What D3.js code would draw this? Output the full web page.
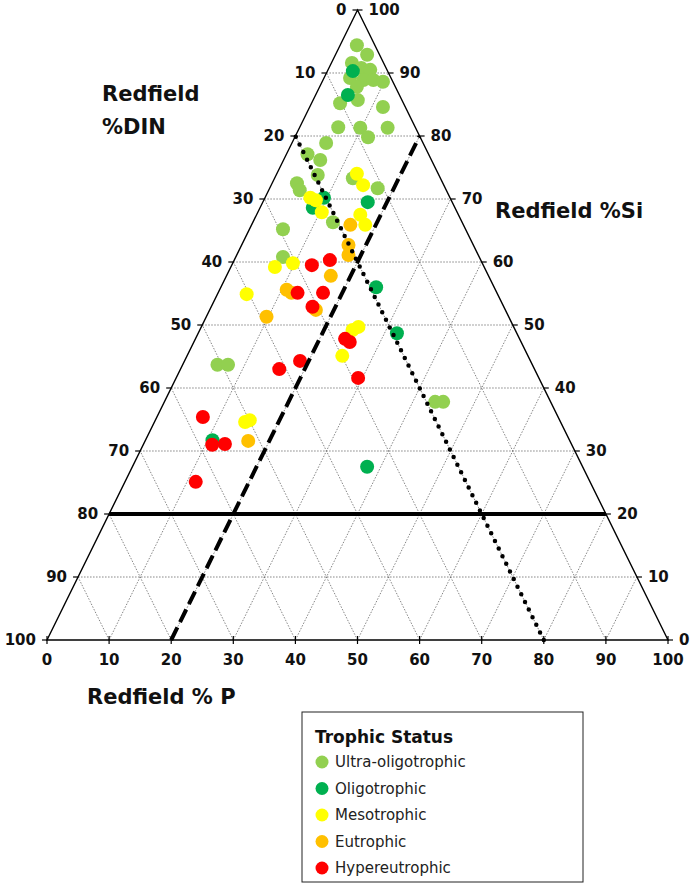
<!DOCTYPE html>
<html>
<head>
<meta charset="utf-8">
<script src="https://cdn.jsdelivr.net/npm/d3@7"></script>
<style>
  body { margin: 0; background: #fff; }
  text { font-family: "DejaVu Sans", sans-serif; }
</style>
</head>
<body>
<div id="chart"></div>
<script>
// tick values shared by the three axes
const ticks = [0, 10, 20, 30, 40, 50, 60, 70, 80, 90, 100];

const statusNames = ["Ultra-oligotrophic", "Oligotrophic", "Mesotrophic", "Eutrophic", "Hypereutrophic"];
const statusColors = ["#92d050", "#00b050", "#ffff00", "#ffc000", "#ff0000"];

// points as [%P, %Si]
const ultraOligo = [
  [2.7, 94.4], [5.1, 92.9], [3.3, 91.6], [5.2, 90.8], [6.8, 90.5], [4.2, 89.2],
  [6.5, 88.9], [8.1, 88.9], [9.8, 88.6], [6.0, 87.8], [4.6, 85.2], [7.2, 85.7],
  [11.8, 84.6], [6.2, 81.4], [9.8, 81.3], [14.2, 81.3], [11.8, 79.8], [5.5, 78.9],
  [3.4, 77.1], [5.9, 76.2], [6.7, 73.8], [4.0, 72.5], [5.0, 71.4], [12.6, 73.3],
  [17.4, 71.7], [12.9, 66.3], [5.4, 65.2], [7.6, 60.8], [5.6, 43.7], [7.3, 43.7],
  [43.6, 37.8], [44.9, 37.8]
];
const oligo = [
  [4.1, 90.3], [5.2, 86.5], [9.5, 70.2], [8.5, 68.6], [16.9, 69.5],
  [25.0, 56.0], [32.0, 48.7], [37.8, 27.5], [10.8, 31.7]
];
const meso = [
  [12.9, 74.0], [14.8, 72.2], [7.3, 70.2], [8.4, 69.8], [10.3, 67.9], [16.7, 67.5],
  [18.3, 65.9], [9.7, 59.8], [7.1, 59.2], [4.7, 54.9], [25.3, 49.7], [24.6, 49.2],
  [25.0, 45.1], [14.6, 34.6], [15.2, 34.9]
];
const eutro = [
  [15.9, 65.9], [17.2, 62.7], [18.0, 61.1], [16.8, 57.8], [10.8, 55.6],
  [11.8, 55.1], [9.7, 51.3], [17.1, 52.4], [16.6, 31.6]
];
const hyper = [
  [12.9, 59.5], [15.4, 60.3], [12.8, 55.1], [16.9, 55.1], [16.3, 52.9], [24.1, 47.8],
  [25.1, 47.3], [18.6, 44.3], [15.9, 43.0], [29.3, 41.6], [7.4, 35.4], [11.1, 31.0],
  [13.1, 31.1], [11.4, 25.1]
];
const series = [ultraOligo, oligo, meso, eutro, hyper];

// Redfield threshold lines
const limitSi = 20, limitP = 20, limitDIN = 20;

const width = 694, height = 887;
const svg = d3.select("#chart").append("svg")
  .attr("width", width).attr("height", height);

const x = d3.scaleLinear().domain([0, 100]).range([47, 668]);
const y = d3.scaleLinear().domain([0, 100]).range([640, 10]);
const pt = (p, si) => [x(p + si / 2), y(si)];
const line = d3.line();

// dotted grid
const grid = svg.append("g")
  .attr("fill", "none").attr("stroke", "#666")
  .attr("stroke-width", 0.8).attr("stroke-dasharray", "1.5,1.5");
ticks.slice(1, -1).forEach(k => {
  grid.append("path").attr("d", line([pt(0, k), pt(100 - k, k)]));
  grid.append("path").attr("d", line([pt(k, 0), pt(k, 100 - k)]));
  grid.append("path").attr("d", line([pt(k, 0), pt(0, k)]));
});

// triangle frame
svg.append("path")
  .attr("d", line([pt(0, 0), pt(100, 0), pt(0, 100)]) + "Z")
  .attr("fill", "none").attr("stroke", "#000").attr("stroke-width", 1.4);

// tick marks
const tk = svg.append("g").attr("stroke", "#000").attr("stroke-width", 1.2);
ticks.forEach(k => {
  const l = pt(0, k), r = pt(100 - k, k);
  tk.append("line").attr("x1", l[0] - 5).attr("x2", l[0]).attr("y1", l[1]).attr("y2", l[1]);
  tk.append("line").attr("x1", r[0]).attr("x2", r[0] + 5).attr("y1", r[1]).attr("y2", r[1]);
  tk.append("line").attr("x1", x(k)).attr("x2", x(k)).attr("y1", y(0) - 4).attr("y2", y(0) + 4);
});

// tick labels
const lab = svg.append("g").attr("font-size", 15).attr("font-weight", "bold").attr("fill", "#111");
lab.selectAll(".tl").data(ticks).join("text")
  .attr("x", k => pt(0, k)[0] - 11).attr("y", k => y(k)).attr("dy", "0.36em")
  .attr("text-anchor", "end").text(k => 100 - k);
lab.selectAll(".tr").data(ticks).join("text")
  .attr("x", k => pt(100 - k, k)[0] + 11).attr("y", k => y(k)).attr("dy", "0.36em")
  .attr("text-anchor", "start").text(k => k);
lab.selectAll(".tb").data(ticks).join("text")
  .attr("x", k => x(k)).attr("y", y(0) + 25)
  .attr("text-anchor", "middle").text(k => k);

// points
series.forEach((s, i) => {
  svg.append("g").selectAll("circle").data(s).join("circle")
    .attr("cx", d => pt(d[0], d[1])[0]).attr("cy", d => pt(d[0], d[1])[1])
    .attr("r", 7).attr("fill", statusColors[i]);
});

// Redfield lines
svg.append("path").attr("d", line([pt(0, limitSi), pt(100 - limitSi, limitSi)]))
  .attr("stroke", "#000").attr("stroke-width", 4).attr("fill", "none");
svg.append("path").attr("d", line([pt(limitP, 0), pt(limitP, 100 - limitP)]))
  .attr("stroke", "#000").attr("stroke-width", 4).attr("fill", "none")
  .attr("stroke-dasharray", "14,6");
svg.append("path").attr("d", line([pt(100 - limitDIN, 0), pt(0, 100 - limitDIN)]))
  .attr("stroke", "#000").attr("stroke-width", 4.5).attr("fill", "none")
  .attr("stroke-linecap", "round").attr("stroke-dasharray", "0,8.5");

// axis titles
const ttl = svg.append("g").attr("font-size", 21).attr("font-weight", "bold")
  .style("font-family", "'Open Sans', sans-serif").attr("fill", "#111");
ttl.append("text").attr("x", 102).attr("y", 101).text("Redfield");
ttl.append("text").attr("x", 102).attr("y", 134).text("%DIN");
ttl.append("text").attr("x", 495).attr("y", 218).text("Redfield %Si");
ttl.append("text").attr("x", 87).attr("y", 704).text("Redfield % P");

// legend
const lg = svg.append("g").attr("transform", "translate(302,712)");
lg.append("rect").attr("width", 281).attr("height", 170)
  .attr("fill", "#fff").attr("stroke", "#222").attr("stroke-width", 1);
lg.append("text").attr("x", 13).attr("y", 31).attr("font-size", 17)
  .attr("font-weight", "bold").attr("fill", "#111").text("Trophic Status");
const items = lg.selectAll(".item").data(statusNames).join("g")
  .attr("transform", (d, i) => `translate(20,${50 + i * 26.5})`);
items.append("circle").attr("r", 6.5).attr("fill", (d, i) => statusColors[i]);
items.append("text").attr("x", 13).attr("dy", "0.36em").attr("font-size", 15)
  .attr("fill", "#222").text(d => d);
</script>
</body>
</html>
